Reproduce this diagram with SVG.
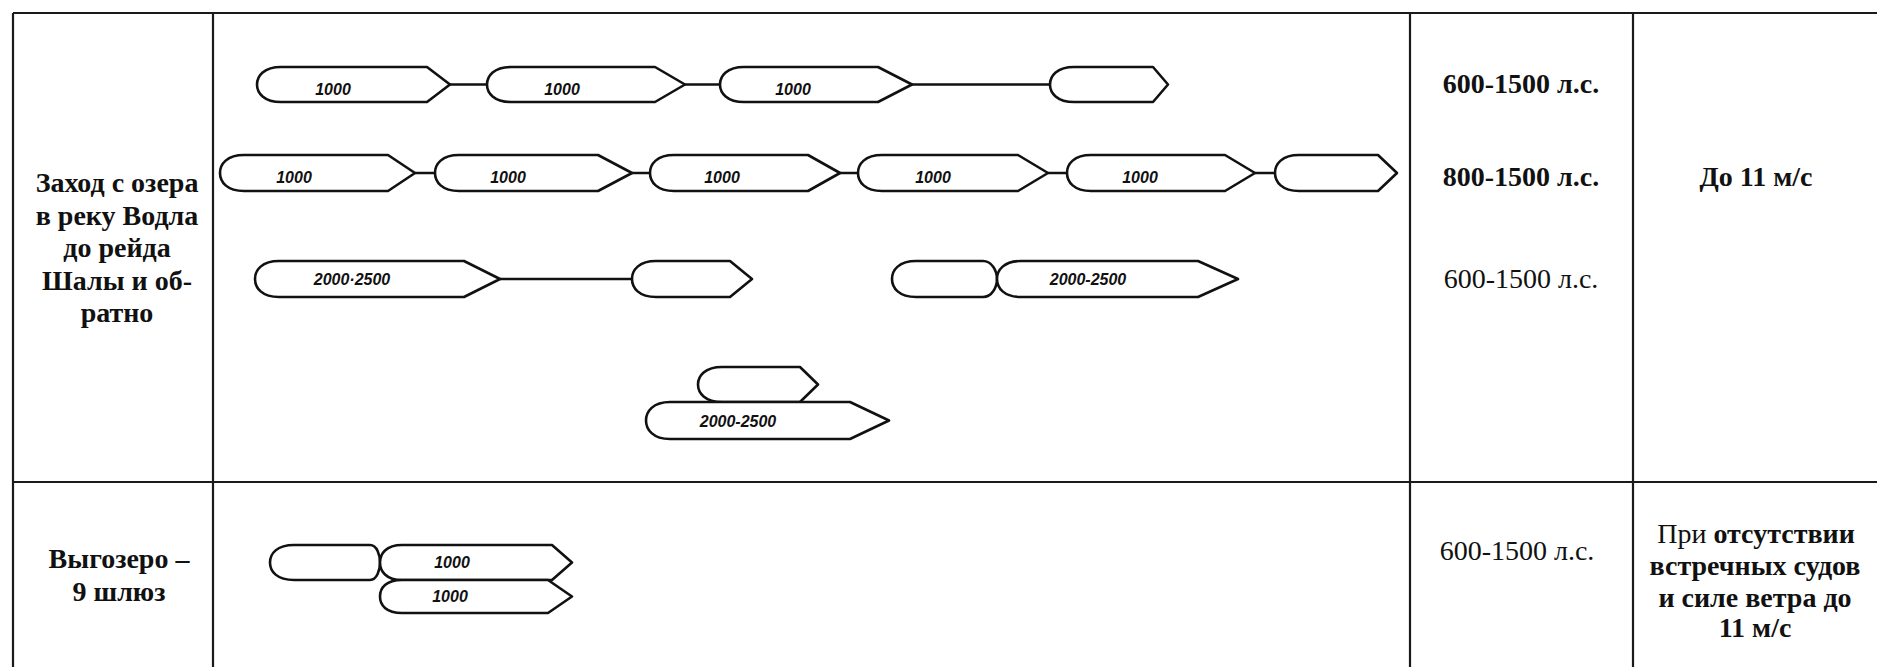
<svg xmlns="http://www.w3.org/2000/svg" width="1877" height="667" viewBox="0 0 1877 667">
<style>
.grid{stroke:#1a1a1a;stroke-width:2.2;fill:none}
.ship{fill:#fff;stroke:#111;stroke-width:2.6;stroke-linejoin:round}
.conn{stroke:#111;stroke-width:2.4;fill:none}
.lbl{font-family:"Liberation Sans",Arial,sans-serif;font-weight:bold;font-style:italic;font-size:16px;fill:#111;text-anchor:middle}
.tb{font-family:"Liberation Serif","Times New Roman",serif;font-weight:bold;font-size:28px;fill:#111;text-anchor:middle}
.tr{font-family:"Liberation Serif","Times New Roman",serif;font-weight:normal;font-size:28px;fill:#111;text-anchor:middle}
</style>
<rect width="1877" height="667" fill="#fff"/>
<g id="table">
<path class="grid" d="M13,13 H1877 M13,482 H1877 M13,13 V667 M213,13 V667 M1410,13 V667 M1633,13 V667"/>
</g>
<g id="connectors">
<path class="conn" d="M450,84.5 H487 M685,84.5 H720 M912,84.5 H1050"/>
<path class="conn" d="M415,173 H435 M632,173 H650 M840,173 H858 M1048,173 H1067 M1255,173 H1275"/>
<path class="conn" d="M500,279 H632"/>
</g>
<g id="row1">
<g id="r1s1"><path class="ship" d="M427,67 L281,67 C264,67 257,76 257,84.5 C257,93 264,102 281,102 L427,102 L450,84.5 Z"/><text class="lbl" x="333" y="95">1000</text></g>
<g id="r1s2"><path class="ship" d="M655,67 L511,67 C494,67 487,76 487,84.5 C487,93 494,102 511,102 L655,102 L685,84.5 Z"/><text class="lbl" x="562" y="95">1000</text></g>
<g id="r1s3"><path class="ship" d="M878,67 L744,67 C727,67 720,76 720,84.5 C720,93 727,102 744,102 L878,102 L912,84.5 Z"/><text class="lbl" x="793" y="95">1000</text></g>
<g id="r1s4"><path class="ship" d="M1153,67 L1074,67 C1057,67 1050,76 1050,84.5 C1050,93 1057,102 1074,102 L1153,102 L1168,84.5 Z"/></g>
</g>
<g id="row2">
<g id="r2s1"><path class="ship" d="M388,155 L244,155 C227,155 220,164 220,173 C220,182 227,191 244,191 L388,191 L415,173 Z"/><text class="lbl" x="294" y="183">1000</text></g>
<g id="r2s2"><path class="ship" d="M598,155 L459,155 C442,155 435,164 435,173 C435,182 442,191 459,191 L598,191 L632,173 Z"/><text class="lbl" x="508" y="183">1000</text></g>
<g id="r2s3"><path class="ship" d="M808,155 L674,155 C657,155 650,164 650,173 C650,182 657,191 674,191 L808,191 L840,173 Z"/><text class="lbl" x="722" y="183">1000</text></g>
<g id="r2s4"><path class="ship" d="M1018,155 L882,155 C865,155 858,164 858,173 C858,182 865,191 882,191 L1018,191 L1048,173 Z"/><text class="lbl" x="933" y="183">1000</text></g>
<g id="r2s5"><path class="ship" d="M1225,155 L1091,155 C1074,155 1067,164 1067,173 C1067,182 1074,191 1091,191 L1225,191 L1255,173 Z"/><text class="lbl" x="1140" y="183">1000</text></g>
<g id="r2s6"><path class="ship" d="M1378,155 L1299,155 C1282,155 1275,164 1275,173 C1275,182 1282,191 1299,191 L1378,191 L1397,173 Z"/></g>
</g>
<g id="row3">
<g id="r3s1"><path class="ship" d="M464,261 L279,261 C262,261 255,270 255,279 C255,288 262,297 279,297 L464,297 L500,279 Z"/><text class="lbl" x="352" y="285">2000·2500</text></g>
<g id="r3s2"><path class="ship" d="M730,261 L656,261 C639,261 632,270 632,279 C632,288 639,297 656,297 L730,297 L752,279 Z"/></g>
<g id="r3s3"><path class="ship" d="M916,261 L983,261 C992,261 997,271 997,279 C997,287 992,297 983,297 L916,297 C899,297 892,288 892,279 C892,270 899,261 916,261 Z"/></g>
<g id="r3s4"><path class="ship" d="M1198,261 L1021,261 C1004,261 997,270 997,279 C997,288 1004,297 1021,297 L1198,297 L1238,279 Z"/><text class="lbl" x="1088" y="285">2000-2500</text></g>
</g>
<g id="row4">
<g id="r4s1"><path class="ship" d="M800,367 L722,367 C705,367 698,376 698,384.5 C698,393 705,402 722,402 L800,402 L818,384.5 Z"/></g>
<g id="r4s2"><path class="ship" d="M850,402 L670,402 C653,402 646,411.5 646,420.5 C646,429.5 653,439 670,439 L850,439 L889,420.5 Z"/><text class="lbl" x="738" y="427">2000-2500</text></g>
</g>
<g id="row5">
<g id="r5s1"><path class="ship" d="M294,545 L370,545 C377,545 380,555 380,562.5 C380,570 377,580 370,580 L294,580 C277,580 270,571.5 270,562.5 C270,553.5 277,545 294,545 Z"/></g>
<g id="r5s2"><path class="ship" d="M552,545 L402,545 C386,545 380,554 380,562.5 C380,571 386,580 402,580 L552,580 L572,562.5 Z"/><text class="lbl" x="452" y="568">1000</text></g>
<g id="r5s3"><path class="ship" d="M548,580 L402,580 C386,580 380,588 380,596.5 C380,605 386,613 402,613 L548,613 L572,596.5 Z"/><text class="lbl" x="450" y="602">1000</text></g>
</g>
<g id="texts">
<text class="tb" x="117" y="192">Заход с озера</text>
<text class="tb" x="117" y="225">в реку Водла</text>
<text class="tb" x="117" y="257">до рейда</text>
<text class="tb" x="117" y="290">Шалы и об-</text>
<text class="tb" x="117" y="322">ратно</text>
<text class="tb" x="1521" y="93">600-1500 л.с.</text>
<text class="tb" x="1521" y="186">800-1500 л.с.</text>
<text class="tr" x="1521" y="288">600-1500 л.с.</text>
<text class="tb" x="1756" y="186">До 11 м/с</text>
<text class="tb" x="119" y="568">Выгозеро –</text>
<text class="tb" x="119" y="601">9 шлюз</text>
<text class="tr" x="1517" y="560">600-1500 л.с.</text>
<text class="tr" x="1756" y="543">При <tspan font-weight="bold">отсутствии</tspan></text>
<text class="tb" x="1755" y="575">встречных судов</text>
<text class="tb" x="1755" y="607">и силе ветра до</text>
<text class="tb" x="1755" y="637">11 м/с</text>
</g>
</svg>
